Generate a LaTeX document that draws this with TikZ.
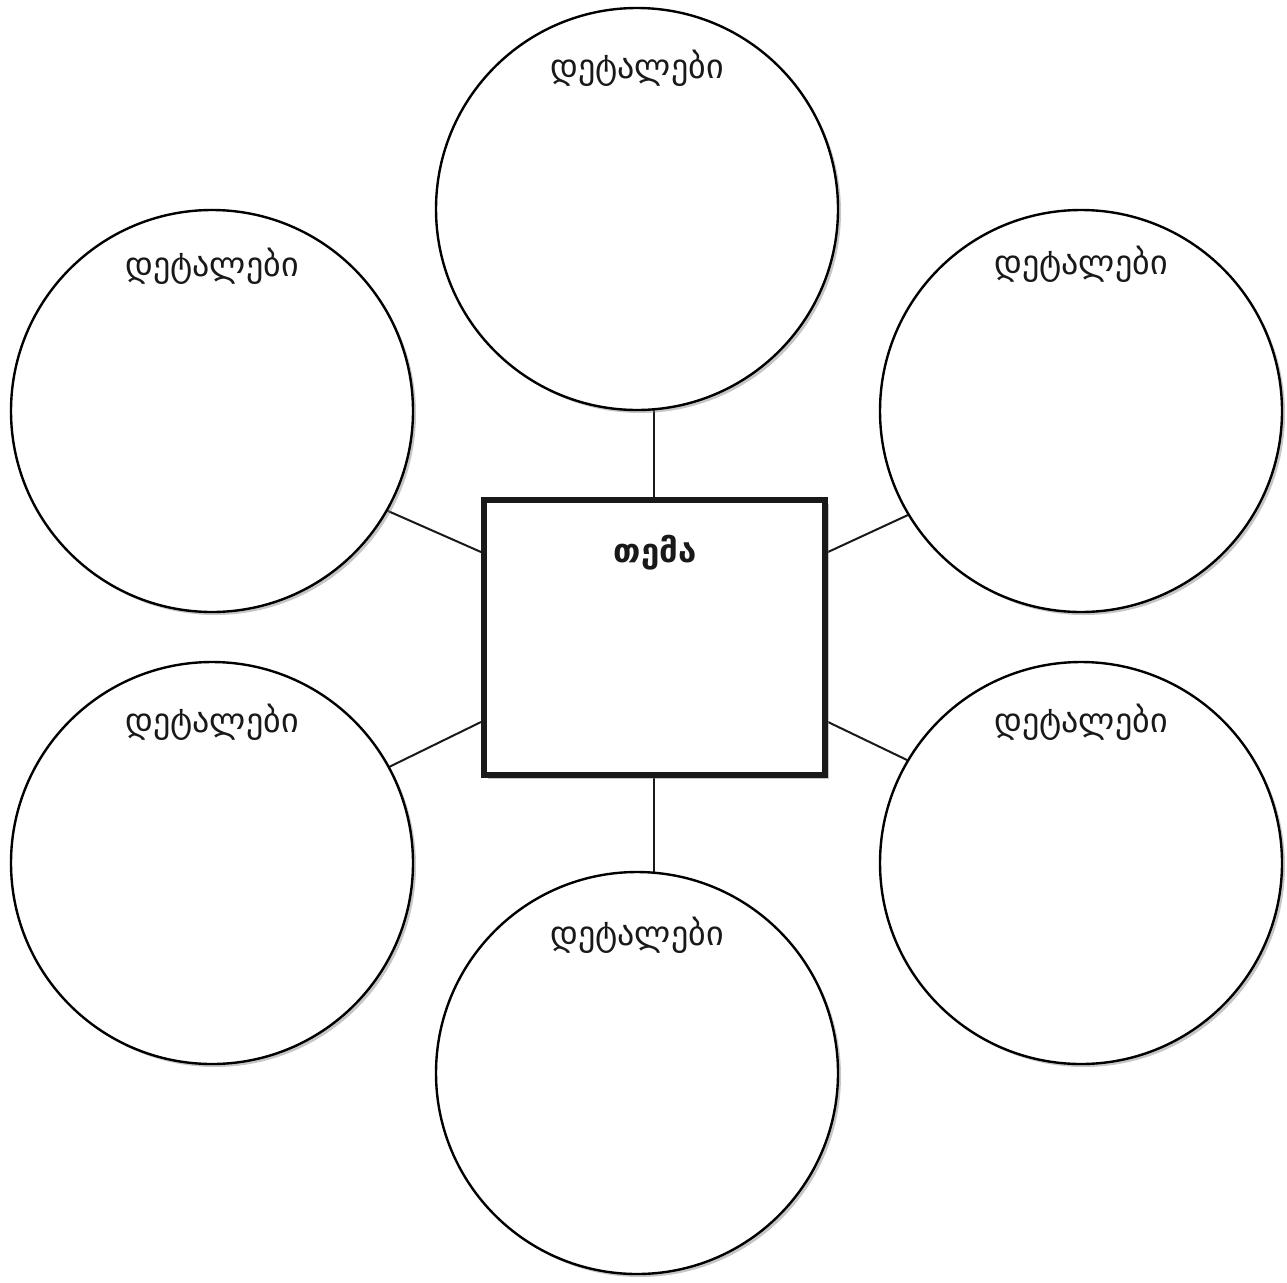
\documentclass[tikz,border=0pt]{standalone}
\usepackage{fontspec}
\newfontfamily\geo{DejaVu Sans}
\usetikzlibrary{shadows}
\begin{document}
\begin{tikzpicture}[x=1pt,y=-1pt,
  bubble/.style={circle,draw=black,line width=2.4pt,fill=white,minimum size=402pt,inner sep=0pt,
    drop shadow={opacity=0.45,shadow xshift=3pt,shadow yshift=-3pt}},
  topicbox/.style={rectangle,draw=black!90,line width=6pt,fill=white,minimum width=341pt,minimum height=275pt,inner sep=0pt,
    drop shadow={opacity=0.45,shadow xshift=4pt,shadow yshift=-4pt}},
  link/.style={line width=2pt,draw=black!90},
  lbl/.style={font=\geo\fontsize{34}{40}\selectfont,text=black!90,inner sep=0pt},
  ttl/.style={font=\geo\bfseries\fontsize{33}{40}\selectfont,text=black!90,inner sep=0pt}]
\useasboundingbox (0,0) rectangle (1287,1282);
% connectors first (behind shapes)
\coordinate (tC) at (654,409);
\coordinate (bC) at (654,873);
\coordinate (ulC) at (388,511);
\coordinate (llC) at (389,767);
\coordinate (urC) at (908,515);
\coordinate (lrC) at (907,760);
\coordinate (bxT) at (654,497);
\coordinate (bxB) at (654,778);
\coordinate (bxUL) at (481,552);
\coordinate (bxLL) at (481,722);
\coordinate (bxUR) at (828,552);
\coordinate (bxLR) at (828,722);
\draw[link] (tC) -- (bxT);
\draw[link] (bC) -- (bxB);
\draw[link] (ulC) -- (bxUL);
\draw[link] (llC) -- (bxLL);
\draw[link] (urC) -- (bxUR);
\draw[link] (lrC) -- (bxLR);
% circles
\node[bubble] (top) at (637,209) {};
\node[bubble] (ul) at (212,411) {};
\node[bubble] (ur) at (1081,411) {};
\node[bubble] (ll) at (212,863) {};
\node[bubble] (lr) at (1081,863) {};
\node[bubble] (bot) at (637,1073) {};
% box
\node[topicbox] (box) at (654.5,637.5) {};
% labels
\node[lbl] (tTxt) at (637,68) {დეტალები};
\node[lbl] (ulTxt) at (212,266) {დეტალები};
\node[lbl] (urTxt) at (1081,264) {დეტალები};
\node[lbl] (llTxt) at (212,722) {დეტალები};
\node[lbl] (lrTxt) at (1081,722) {დეტალები};
\node[lbl] (bTxt) at (637,935) {დეტალები};
\node[ttl] (boxTxt) at (655,553) {თემა};
\end{tikzpicture}
\end{document}
